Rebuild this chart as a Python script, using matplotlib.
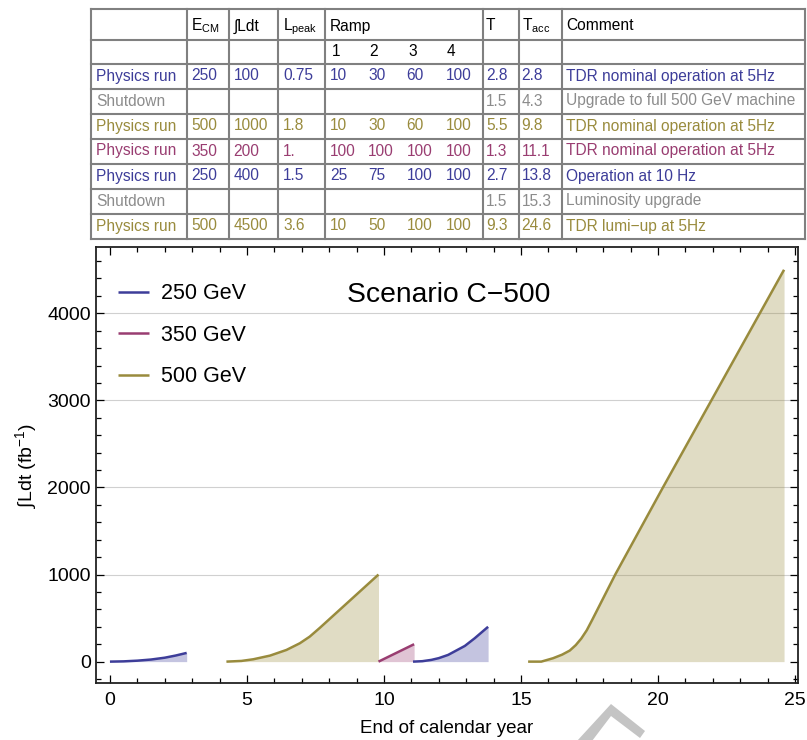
import matplotlib
matplotlib.use("Agg")
import matplotlib.pyplot as plt
from matplotlib.patches import Polygon

plt.rcParams['font.family'] = ['Liberation Sans', 'DejaVu Sans']
plt.rcParams['mathtext.fontset'] = 'custom'
plt.rcParams['mathtext.rm'] = 'Liberation Sans'
plt.rcParams['mathtext.it'] = 'Liberation Sans:italic'
plt.rcParams['mathtext.bf'] = 'Liberation Sans:bold'

# table content
run_type = ['Physics run', 'Shutdown', 'Physics run', 'Physics run', 'Physics run', 'Shutdown', 'Physics run']
ecm = ['250', '', '500', '350', '250', '', '500']
lumi = ['100', '', '1000', '200', '400', '', '4500']
lpeak = ['0.75', '', '1.8', '1.', '1.5', '', '3.6']
ramp = [['10', '30', '60', '100'], [], ['10', '30', '60', '100'], ['100', '100', '100', '100'],
        ['25', '75', '100', '100'], [], ['10', '50', '100', '100']]
t_run = ['2.8', '1.5', '5.5', '1.3', '2.7', '1.5', '9.3']
t_acc = ['2.8', '4.3', '9.8', '11.1', '13.8', '15.3', '24.6']
comment = ['TDR nominal operation at 5Hz', 'Upgrade to full 500 GeV machine', 'TDR nominal operation at 5Hz',
           'TDR nominal operation at 5Hz', 'Operation at 10 Hz', 'Luminosity upgrade', 'TDR lumi\u2212up at 5Hz']
row_energy = ['250', 'off', '500', '350', '250', 'off', '500']
header = ['', r'$\mathregular{E_{CM}}$', '\u222bLdt', r'$\mathregular{L_{peak}}$', 'Ramp', 'T',
          r'$\mathregular{T_{acc}}$', 'Comment']
ramp_years = ['1', '2', '3', '4']

# integrated luminosity curves (year, fb^-1)
run1_x = [0.0, 0.5, 1.0, 1.5, 2.0, 2.4, 2.8]
run1_y = [0, 3, 11, 24, 45, 70, 100]
run2_x = [4.25, 4.8, 5.23, 5.84, 6.44, 6.93, 7.29, 7.66, 8.02, 8.87, 9.8]
run2_y = [0, 8, 27, 69, 134, 211, 287, 388, 491, 734, 1000]
run3_x = [9.8, 11.1]
run3_y = [0, 200]
run4_x = [11.06, 11.4, 11.73, 12.0, 12.34, 12.95, 13.31, 13.8]
run4_y = [0, 5, 20, 40, 77, 180, 268, 400]
run5_x = [15.26, 15.74, 16.17, 16.5, 16.78, 17.0, 17.2, 17.4, 17.6, 18.44, 20.18, 24.6]
run5_y = [0, 0, 39, 80, 127, 190, 265, 360, 480, 1000, 2000, 4500]

colors = {'250': '#3d3d99', '350': '#993d71', '500': '#998b3d', 'off': '#8c8c8c'}

fig = plt.figure(figsize=(8.07, 7.4), dpi=100)

# table drawn in pixel coordinates
tab = fig.add_axes([0, 0, 1, 1])
tab.set_xlim(0, 807)
tab.set_ylim(740, 0)
tab.axis('off')

row_lines = [9, 40, 64, 89, 114, 139, 164, 189, 214, 239]
col_lines = [91, 187, 229, 277.5, 324.5, 482.5, 518.5, 561.5, 805]
grid_c = '#808080'
for y in row_lines:
    tab.plot([col_lines[0], col_lines[-1]], [y, y], color=grid_c, lw=1.5, solid_capstyle='projecting')
for x in col_lines:
    tab.plot([x, x], [row_lines[0], row_lines[-1]], color=grid_c, lw=1.5, solid_capstyle='projecting')

fs = 11.2
col_x = [96.5, 191, 233.5, 283, 330, 486, 521.5, 566.5]
ramp_x = [330, 368, 406.5, 445.5]
for j, h in enumerate(header):
    tab.text(col_x[j], 30.5, h, fontsize=fs, color='black', va='baseline')
for k, r in enumerate(ramp_years):
    tab.text(ramp_x[k] + 1.5, 56, r, fontsize=fs, color='black', va='baseline')
for i in range(len(run_type)):
    yb = row_lines[i + 3] - 8.5
    c = colors[row_energy[i]]
    cells = [run_type[i], ecm[i], lumi[i], lpeak[i]]
    for j, s in enumerate(cells):
        tab.text(col_x[j], yb, s, fontsize=fs, color=c, va='baseline')
    for k, s in enumerate(ramp[i]):
        tab.text(ramp_x[k], yb, s, fontsize=fs, color=c, va='baseline')
    tab.text(col_x[5], yb, t_run[i], fontsize=fs, color=c, va='baseline')
    tab.text(col_x[6], yb, t_acc[i], fontsize=fs, color=c, va='baseline')
    tab.text(col_x[7], yb, comment[i], fontsize=fs, color=c, va='baseline')

# watermark fragment at the bottom
tab.add_patch(Polygon([(577, 741), (611, 704), (645, 731), (640, 738), (611, 716), (592, 741)],
                      closed=True, facecolor='#c4c4c4', edgecolor='none'))

# main plot
ax = fig.add_axes([95.7 / 807, 1 - 682.7 / 740, (798.3 - 95.7) / 807, (682.7 - 247.3) / 740])
ax.set_xlim(-0.52, 25.12)
ax.set_ylim(-242, 4758)

for g in [1000, 2000, 3000, 4000]:
    ax.axhline(g, color='#d0d0d0', lw=0.8, zorder=0.5)

runs = [(run1_x, run1_y, '250'), (run2_x, run2_y, '500'), (run3_x, run3_y, '350'),
        (run4_x, run4_y, '250'), (run5_x, run5_y, '500')]
handles = {}
for xs, ys, e in runs:
    ax.fill_between(xs, 0, ys, color=colors[e], alpha=0.3, lw=0, zorder=1)
    ln, = ax.plot(xs, ys, color=colors[e], lw=1.8, zorder=2, solid_capstyle='butt')
    handles.setdefault(e, ln)

ax.legend([handles['250'], handles['350'], handles['500']], ['250 GeV', '350 GeV', '500 GeV'],
          loc='upper left', bbox_to_anchor=(0.0317, 0.9173), frameon=False, fontsize=15.5,
          handlelength=1.45, handletextpad=0.56, labelspacing=0.95, borderpad=0, borderaxespad=0)

ax.text(0.503, 0.875, 'Scenario C\u2212500', transform=ax.transAxes, fontsize=20.3,
        ha='center', va='baseline')

ax.set_xticks([0, 5, 10, 15, 20, 25])
ax.set_xticks(range(0, 26), minor=True)
ax.set_yticks([0, 1000, 2000, 3000, 4000])
ax.set_yticks(range(-200, 4800, 200), minor=True)
ax.tick_params(which='both', direction='in', top=True, right=True, labelsize=14, width=0.9)
ax.tick_params(axis='x', which='major', length=6, pad=6.5)
ax.tick_params(axis='y', which='major', length=6, pad=3.5)
ax.tick_params(which='minor', length=3.5)
for sp in ax.spines.values():
    sp.set_linewidth(1.3)
    sp.set_color('#222222')

ax.set_xlabel('End of calendar year', fontsize=13.5, labelpad=8)
ax.set_ylabel('\u222bLdt (fb$^{\\mathregular{-1}}$)', fontsize=14, labelpad=6)

fig.savefig('out.png', dpi=100)
